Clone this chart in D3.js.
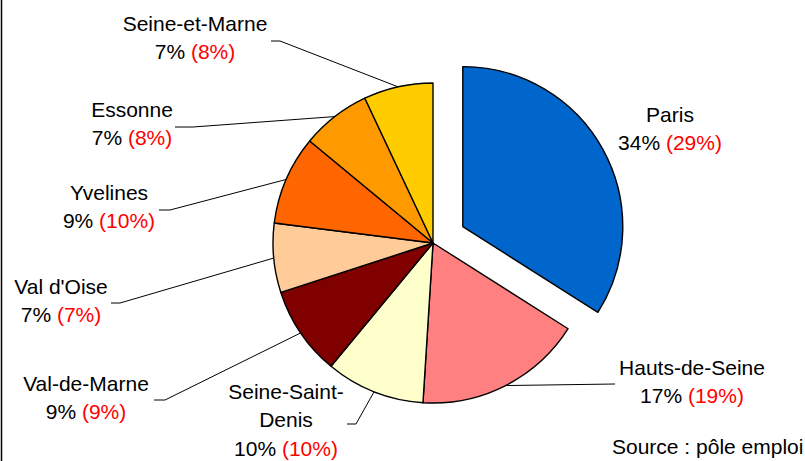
<!DOCTYPE html>
<html>
<head>
<meta charset="utf-8">
<script src="https://cdn.jsdelivr.net/npm/d3@7"></script>
<style>
  html, body { margin: 0; padding: 0; background: #fff; }
  svg { display: block; }
  text { font-family: "Liberation Sans", Arial, sans-serif; }
</style>
</head>
<body>
<svg id="chart" width="805" height="461"></svg>
<script>
// ---- data ----
const categories = ["Paris", "Hauts-de-Seine", "Seine-Saint-Denis", "Val-de-Marne", "Val d'Oise", "Yvelines", "Essonne", "Seine-et-Marne"];
const shares = [34, 17, 10, 9, 7, 9, 7, 7];          // main percentage
const sharesPrev = [29, 19, 10, 9, 7, 10, 8, 8];     // value in parentheses (red)
const labelLines = [["Paris"], ["Hauts-de-Seine"], ["Seine-Saint-", "Denis"], ["Val-de-Marne"], ["Val d'Oise"], ["Yvelines"], ["Essonne"], ["Seine-et-Marne"]];
const colors = ["#0066CC", "#FF8080", "#FFFFCC", "#800000", "#FFCC99", "#FF6600", "#FF9900", "#FFCC00"];
const sourceText = "Source : pôle emploi";

// ---- layout (positions) ----
const cx = 433, cy = 243, r = 160, explode = 34;
// label centre x, first baseline y, gap before value line, leader-line start (text side)
const labelPos = [
  {x: 670, y: 122, vg: 28, lx: null, ly: null},
  {x: 692, y: 375, vg: 28, lx: 615, ly: 384},
  {x: 286, y: 399, vg: 29, lx: 347, ly: 424, hx: 356},
  {x: 86,  y: 391, vg: 28, lx: 154, ly: 400, hx: 165},
  {x: 61,  y: 294, vg: 28, lx: 111, ly: 303, hx: 120},
  {x: 109, y: 200, vg: 28, lx: 159, ly: 210, hx: 170},
  {x: 132, y: 117, vg: 28, lx: 175, ly: 127, hx: 193},
  {x: 195, y: 31,  vg: 28, lx: 271, ly: 41,  hx: 280}
];
const lineGap = 28;

const svg = d3.select("#chart");

// left border
svg.append("line").attr("x1", 1.5).attr("x2", 1.5).attr("y1", 0).attr("y2", 461)
  .attr("stroke", "#000").attr("stroke-width", 1.5);

const data = categories.map((c, i) => ({name: c, value: shares[i], prev: sharesPrev[i], i}));
const pie = d3.pie().value(d => d.value).sort(null);
const arcs = pie(data);
const arc = d3.arc().innerRadius(0).outerRadius(r);

const g = svg.append("g").attr("transform", `translate(${cx},${cy})`);

g.selectAll("path.slice").data(arcs).enter().append("path")
  .attr("class", "slice")
  .attr("d", arc)
  .attr("fill", d => colors[d.data.i])
  .attr("stroke", "#000")
  .attr("stroke-width", 1.4)
  .attr("stroke-linejoin", "round")
  .attr("transform", d => {
    if (d.data.i !== 0) return null;
    const a = (d.startAngle + d.endAngle) / 2;
    return `translate(${explode * Math.sin(a)},${-explode * Math.cos(a)})`;
  });

// leader lines
arcs.forEach(d => {
  const p = labelPos[d.data.i];
  if (p.lx == null) return;
  const a = (d.startAngle + d.endAngle) / 2;
  const ex = cx + r * Math.sin(a), ey = cy - r * Math.cos(a);
  const pts = [[p.lx, p.ly]];
  if (p.hx != null) pts.push([p.hx, p.ly]);
  pts.push([ex, ey]);
  svg.append("path").attr("d", d3.line()(pts))
    .attr("fill", "none").attr("stroke", "#000").attr("stroke-width", 1);
});

// labels
arcs.forEach(d => {
  const i = d.data.i;
  const p = labelPos[i];
  const lines = labelLines[i];
  lines.forEach((ln, k) => {
    svg.append("text").attr("x", p.x).attr("y", p.y + k * lineGap)
      .attr("text-anchor", "middle").attr("font-size", 21).attr("fill", "#000").text(ln);
  });
  const yv = p.y + (lines.length - 1) * lineGap + p.vg;
  const t = svg.append("text").attr("x", p.x).attr("y", yv)
    .attr("text-anchor", "middle").attr("font-size", 21);
  t.append("tspan").attr("fill", "#000").text(d.data.value + "% ");
  t.append("tspan").attr("fill", "#FF0000").text("(" + d.data.prev + "%)");
});

svg.append("text").attr("x", 612).attr("y", 454).attr("font-size", 21).attr("fill", "#000").text(sourceText);
</script>
</body>
</html>
